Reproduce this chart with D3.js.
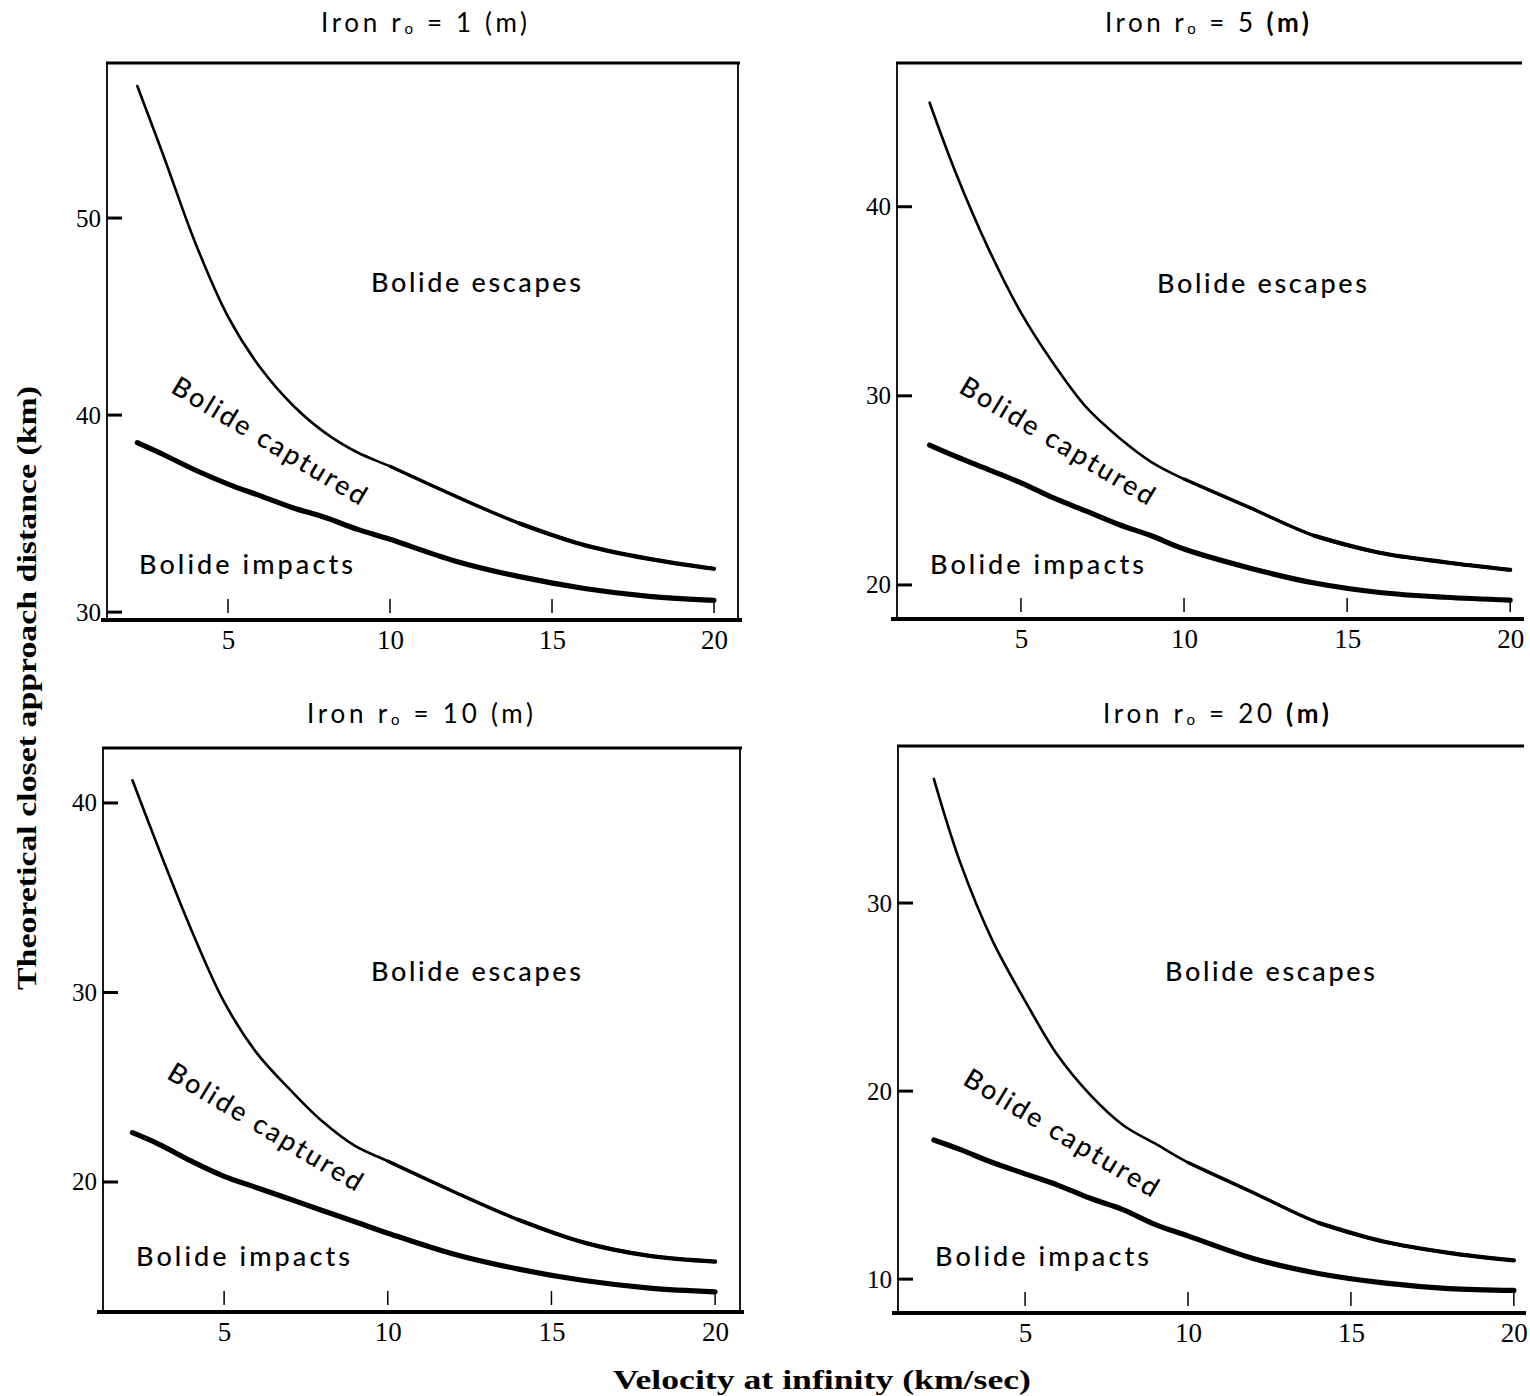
<!DOCTYPE html>
<html>
<head>
<meta charset="utf-8">
<script src="https://cdn.jsdelivr.net/npm/d3@7"></script>
<style>
  html, body { margin: 0; padding: 0; background: #fff; }
  svg { display: block; }
</style>
</head>
<body>
<svg id="chart" width="1530" height="1396"></svg>
<script>
// ---------------- DATA ----------------
const velocity = [2.2, 3, 4, 5, 6, 7, 8, 9, 10, 12, 14, 16, 18, 20];

const panelTitles = ["1", "5", "10", "20"];

// upper boundary: escape / capture ; lower boundary: capture / impact
const upper_r1  = [56.7, 53.2, 48.7, 45.0, 42.4, 40.5, 39.1, 38.1, 37.4, 35.9, 34.5, 33.4, 32.7, 32.2];
const lower_r1  = [38.6, 38.0, 37.2, 36.5, 35.9, 35.3, 34.8, 34.2, 33.7, 32.6, 31.8, 31.2, 30.8, 30.6];
const upper_r5  = [45.5, 41.8, 37.8, 34.4, 31.7, 29.4, 27.8, 26.5, 25.6, 24.1, 22.6, 21.7, 21.2, 20.8];
const lower_r5  = [27.4, 26.8, 26.1, 25.4, 24.6, 23.9, 23.2, 22.6, 21.9, 20.9, 20.1, 19.6, 19.35, 19.2];
const upper_r10 = [41.2, 37.6, 33.3, 29.5, 26.8, 24.9, 23.2, 21.9, 21.1, 19.5, 18.0, 16.8, 16.1, 15.8];
const lower_r10 = [22.6, 22.0, 21.1, 20.3, 19.7, 19.1, 18.5, 17.9, 17.3, 16.2, 15.4, 14.8, 14.4, 14.2];
const upper_r20 = [36.6, 32.2, 28.0, 24.8, 21.9, 19.8, 18.2, 17.2, 16.2, 14.6, 13.0, 12.0, 11.4, 11.0];
const lower_r20 = [17.4, 16.9, 16.2, 15.6, 15.0, 14.3, 13.7, 12.9, 12.3, 11.1, 10.3, 9.8, 9.5, 9.4];

const xTicks = [5, 10, 15, 20];
const yTicks_r1  = [30, 40, 50];
const yTicks_r5  = [20, 30, 40];
const yTicks_r10 = [20, 30, 40];
const yTicks_r20 = [10, 20, 30];

const xDomain_r1  = [1.265, 20.74];
const xDomain_r5  = [1.2, 20.3];
const xDomain_r10 = [1.3, 20.76];
const xDomain_r20 = [1.1, 20.25];
const yDomain_r1  = [29.6, 57.87];
const yDomain_r5  = [18.2, 47.6];
const yDomain_r10 = [13.14, 42.9];
const yDomain_r20 = [8.2, 38.35];

const regionLabels = ["Bolide escapes", "Bolide captured", "Bolide impacts"];
const yAxisTitle = "Theoretical closet approach distance (km)";
const xAxisTitle = "Velocity at infinity (km/sec)";

// ---------------- LAYOUT ----------------
const panels = [
  { r: panelTitles[0], upper: upper_r1, lower: lower_r1, yTicks: yTicks_r1, xd: xDomain_r1, yd: yDomain_r1,
    box: {l: 107, r: 738, t: 63, b: 620}, rightEdge: true, titleX: 424, titleY: 22, boldM: false, titleW: 206,
    esc: [476, 281], cap: [270, 440], imp: [139, 563] },
  { r: panelTitles[1], upper: upper_r5, lower: lower_r5, yTicks: yTicks_r5, xd: xDomain_r5, yd: yDomain_r5,
    box: {l: 897, r: 1520, t: 63, b: 619}, rightEdge: false, titleX: 1207, titleY: 22, boldM: true, titleW: 204,
    esc: [1262, 282], cap: [1058, 440], imp: [930, 563] },
  { r: panelTitles[2], upper: upper_r10, lower: lower_r10, yTicks: yTicks_r10, xd: xDomain_r10, yd: yDomain_r10,
    box: {l: 103, r: 740, t: 748, b: 1312}, rightEdge: true, titleX: 420, titleY: 713, boldM: false, titleW: 226,
    esc: [476, 970], cap: [266, 1126], imp: [136, 1255] },
  { r: panelTitles[3], upper: upper_r20, lower: lower_r20, yTicks: yTicks_r20, xd: xDomain_r20, yd: yDomain_r20,
    box: {l: 898, r: 1522, t: 746, b: 1313}, rightEdge: false, titleX: 1216, titleY: 713, boldM: true, titleW: 226,
    esc: [1270, 970], cap: [1062, 1132], imp: [935, 1255] }
];

const svg = d3.select("#chart");
const sansFont = "Lato, 'Open Sans', sans-serif";
const serifFont = "'Liberation Serif', 'DejaVu Serif', serif";

panels.forEach(p => {
  const x = d3.scaleLinear().domain(p.xd).range([p.box.l, p.box.r]);
  const y = d3.scaleLinear().domain(p.yd).range([p.box.b, p.box.t]);
  const g = svg.append("g");

  // frame
  g.append("line").attr("x1", p.box.l - 1).attr("x2", p.box.r + 2)
    .attr("y1", p.box.t).attr("y2", p.box.t)
    .attr("stroke", "#000").attr("stroke-width", 3);
  g.append("line").attr("x1", p.box.l).attr("x2", p.box.l)
    .attr("y1", p.box.t).attr("y2", p.box.b)
    .attr("stroke", "#000").attr("stroke-width", 1.8);
  if (p.rightEdge) {
    g.append("line").attr("x1", p.box.r).attr("x2", p.box.r)
      .attr("y1", p.box.t).attr("y2", p.box.b)
      .attr("stroke", "#000").attr("stroke-width", 1.8);
  }

  // x axis
  const xAxis = d3.axisBottom(x).tickValues(xTicks).tickSize(0).tickPadding(10).tickFormat(d3.format("d"));
  const gx = g.append("g").attr("transform", `translate(0,${p.box.b})`).call(xAxis);
  gx.select(".domain").remove();
  gx.selectAll("text").attr("font-family", serifFont).attr("font-size", 27).attr("fill", "#000");
  g.append("line").attr("x1", p.box.l - 6).attr("x2", p.box.r + 4)
    .attr("y1", p.box.b).attr("y2", p.box.b)
    .attr("stroke", "#000").attr("stroke-width", 4);
  // inner floating x tick marks
  g.selectAll(".xtick").data(xTicks).enter().append("line")
    .attr("x1", d => x(d)).attr("x2", d => x(d))
    .attr("y1", p.box.b - 7).attr("y2", p.box.b - 21)
    .attr("stroke", "#000").attr("stroke-width", 1.5);

  // y axis
  const yAxis = d3.axisLeft(y).tickValues(p.yTicks).tickSize(0).tickPadding(6).tickFormat(d3.format("d"));
  const gy = g.append("g").attr("transform", `translate(${p.box.l},0)`).call(yAxis);
  gy.select(".domain").remove();
  gy.selectAll("text").attr("font-family", serifFont).attr("font-size", 25).attr("fill", "#000");
  g.selectAll(".ytick").data(p.yTicks).enter().append("line")
    .attr("x1", p.box.l).attr("x2", p.box.l + 15)
    .attr("y1", d => y(d)).attr("y2", d => y(d))
    .attr("stroke", "#000").attr("stroke-width", 3);

  // curves (upper line thickens toward high velocity, as in the print)
  const pts = arr => arr.map((d, i) => [velocity[i], d]);
  const line = d3.line().x(d => x(d[0])).y(d => y(d[1])).curve(d3.curveCatmullRom.alpha(0.5));
  const up = pts(p.upper);
  [[0, 2.6], [8, 3.4], [10, 4.2]].forEach(([start, w]) => {
    g.append("path").datum(up.slice(start)).attr("d", line)
      .attr("fill", "none").attr("stroke", "#000").attr("stroke-width", w).attr("stroke-linecap", "round");
  });
  g.append("path").datum(pts(p.lower)).attr("d", line)
    .attr("fill", "none").attr("stroke", "#000").attr("stroke-width", 5.2).attr("stroke-linecap", "round");

  // title
  const t = g.append("text").attr("x", p.titleX).attr("y", p.titleY)
    .attr("text-anchor", "middle").attr("dominant-baseline", "central")
    .attr("font-family", sansFont).attr("font-size", 26).attr("fill", "#000")
    .attr("textLength", p.titleW).attr("lengthAdjust", "spacing");
  t.append("tspan").text("Iron r");
  t.append("tspan").attr("font-size", 15).attr("dy", 6).text("o");
  t.append("tspan").attr("dy", -6).text(` = ${p.r} `);
  t.append("tspan").attr("font-weight", p.boldM ? "bold" : "normal").text("(m)");

  // region labels
  g.append("text").attr("x", p.esc[0]).attr("y", p.esc[1])
    .attr("text-anchor", "middle").attr("dominant-baseline", "central")
    .attr("font-family", sansFont).attr("font-size", 27).attr("font-weight", 500)
    .attr("textLength", 210).attr("lengthAdjust", "spacing")
    .text(regionLabels[0]);
  g.append("text").attr("x", 0).attr("y", 0)
    .attr("transform", `translate(${p.cap[0]},${p.cap[1]}) rotate(31)`)
    .attr("text-anchor", "middle").attr("dominant-baseline", "central")
    .attr("font-family", sansFont).attr("font-size", 27).attr("font-weight", 500)
    .attr("textLength", 222).attr("lengthAdjust", "spacing")
    .text(regionLabels[1]);
  g.append("text").attr("x", p.imp[0]).attr("y", p.imp[1])
    .attr("dominant-baseline", "central")
    .attr("font-family", sansFont).attr("font-size", 27).attr("font-weight", 500)
    .attr("textLength", 214).attr("lengthAdjust", "spacing")
    .text(regionLabels[2]);
});

// axis titles
svg.append("text")
  .attr("transform", "translate(26,688) rotate(-90)")
  .attr("text-anchor", "middle").attr("dominant-baseline", "central")
  .attr("font-family", serifFont).attr("font-weight", "bold").attr("font-size", 28)
  .attr("textLength", 604).attr("lengthAdjust", "spacingAndGlyphs")
  .text(yAxisTitle);
svg.append("text")
  .attr("x", 822).attr("y", 1379)
  .attr("text-anchor", "middle").attr("dominant-baseline", "central")
  .attr("font-family", serifFont).attr("font-weight", "bold").attr("font-size", 28)
  .attr("textLength", 418).attr("lengthAdjust", "spacingAndGlyphs")
  .text(xAxisTitle);
</script>
</body>
</html>
